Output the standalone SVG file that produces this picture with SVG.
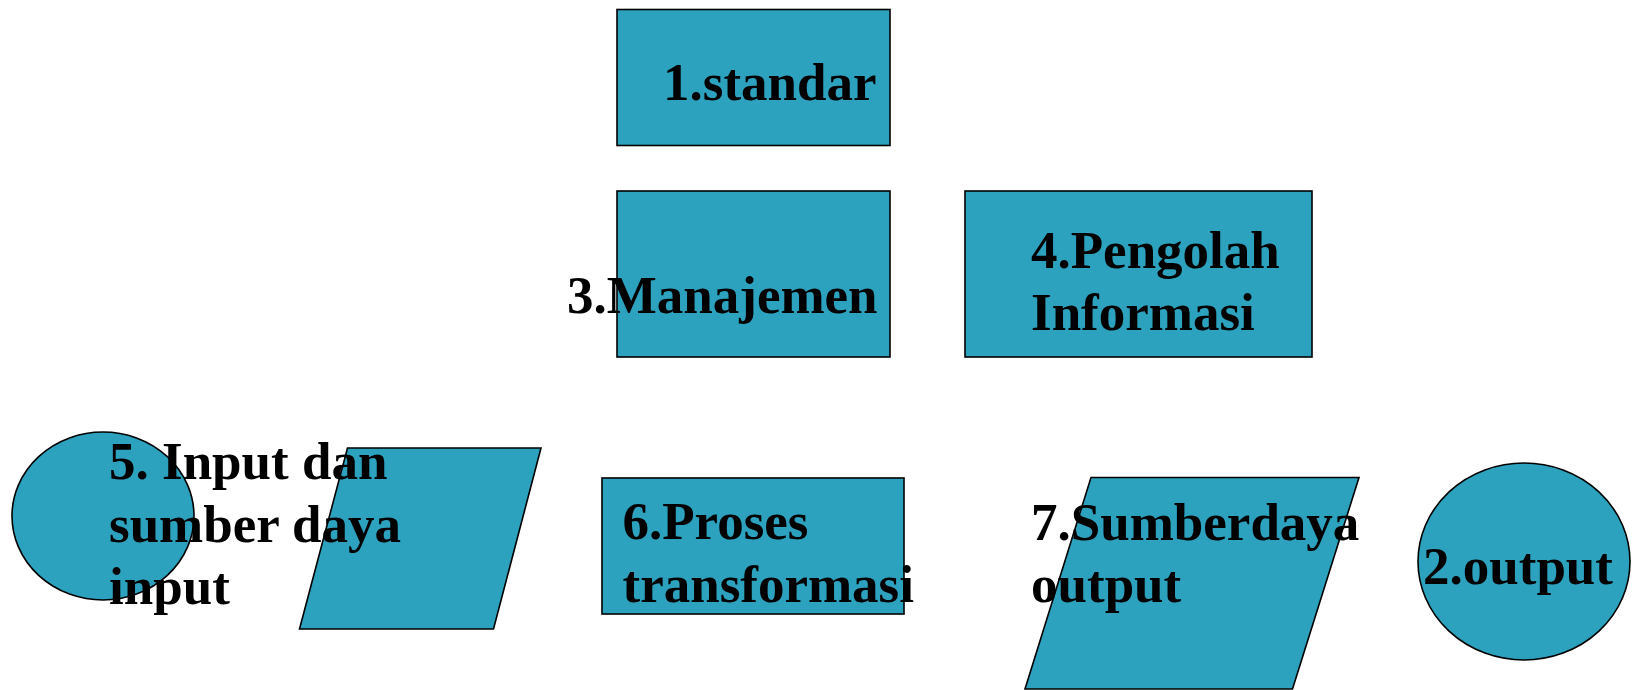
<svg xmlns="http://www.w3.org/2000/svg" width="1632" height="690" viewBox="0 0 1632 690">
<style>
.shape{fill:#2CA2BF;stroke:#000;stroke-width:1.6}
.lbl{font-family:"Liberation Serif","Times New Roman",serif;font-weight:bold;font-size:53px;fill:#000}
</style>
<rect width="1632" height="690" fill="#fff"/>
<g id="connectors"/>
<g id="n1">
<rect class="shape" x="617" y="9.5" width="273" height="136"/>
<text class="lbl" x="663" y="100">1.standar</text>
</g>
<g id="n3">
<rect class="shape" x="617" y="191" width="273" height="166"/>
<text class="lbl" x="567" y="312.5">3.Manajemen</text>
</g>
<g id="n4">
<rect class="shape" x="965" y="191" width="347" height="166"/>
<text class="lbl" x="1031" y="268"><tspan x="1031">4.Pengolah</tspan><tspan x="1031" y="329.5">Informasi</tspan></text>
</g>
<g id="n5b">
<polygon class="shape" points="347.5,448 541,448 493.5,629 299.5,629"/>
</g>
<g id="n5">
<ellipse class="shape" cx="103" cy="516" rx="91" ry="84"/>
<text class="lbl" x="109" y="478.5"><tspan x="109">5. Input dan</tspan><tspan x="109" y="541.5">sumber daya</tspan><tspan x="109" y="604">input</tspan></text>
</g>
<g id="n6">
<rect class="shape" x="602" y="478" width="302" height="136"/>
<text class="lbl" x="622.5" y="539"><tspan x="622.5">6.Proses</tspan><tspan x="622.5" y="601.5">transformasi</tspan></text>
</g>
<g id="n7">
<polygon class="shape" points="1091,477.5 1359,477.5 1292.5,689 1025,689"/>
<text class="lbl" x="1031" y="540"><tspan x="1031">7.Sumberdaya</tspan><tspan x="1031" y="601.5">output</tspan></text>
</g>
<g id="n2">
<ellipse class="shape" cx="1524" cy="561.5" rx="106" ry="98.5"/>
<text class="lbl" x="1423" y="584">2.output</text>
</g>
</svg>
